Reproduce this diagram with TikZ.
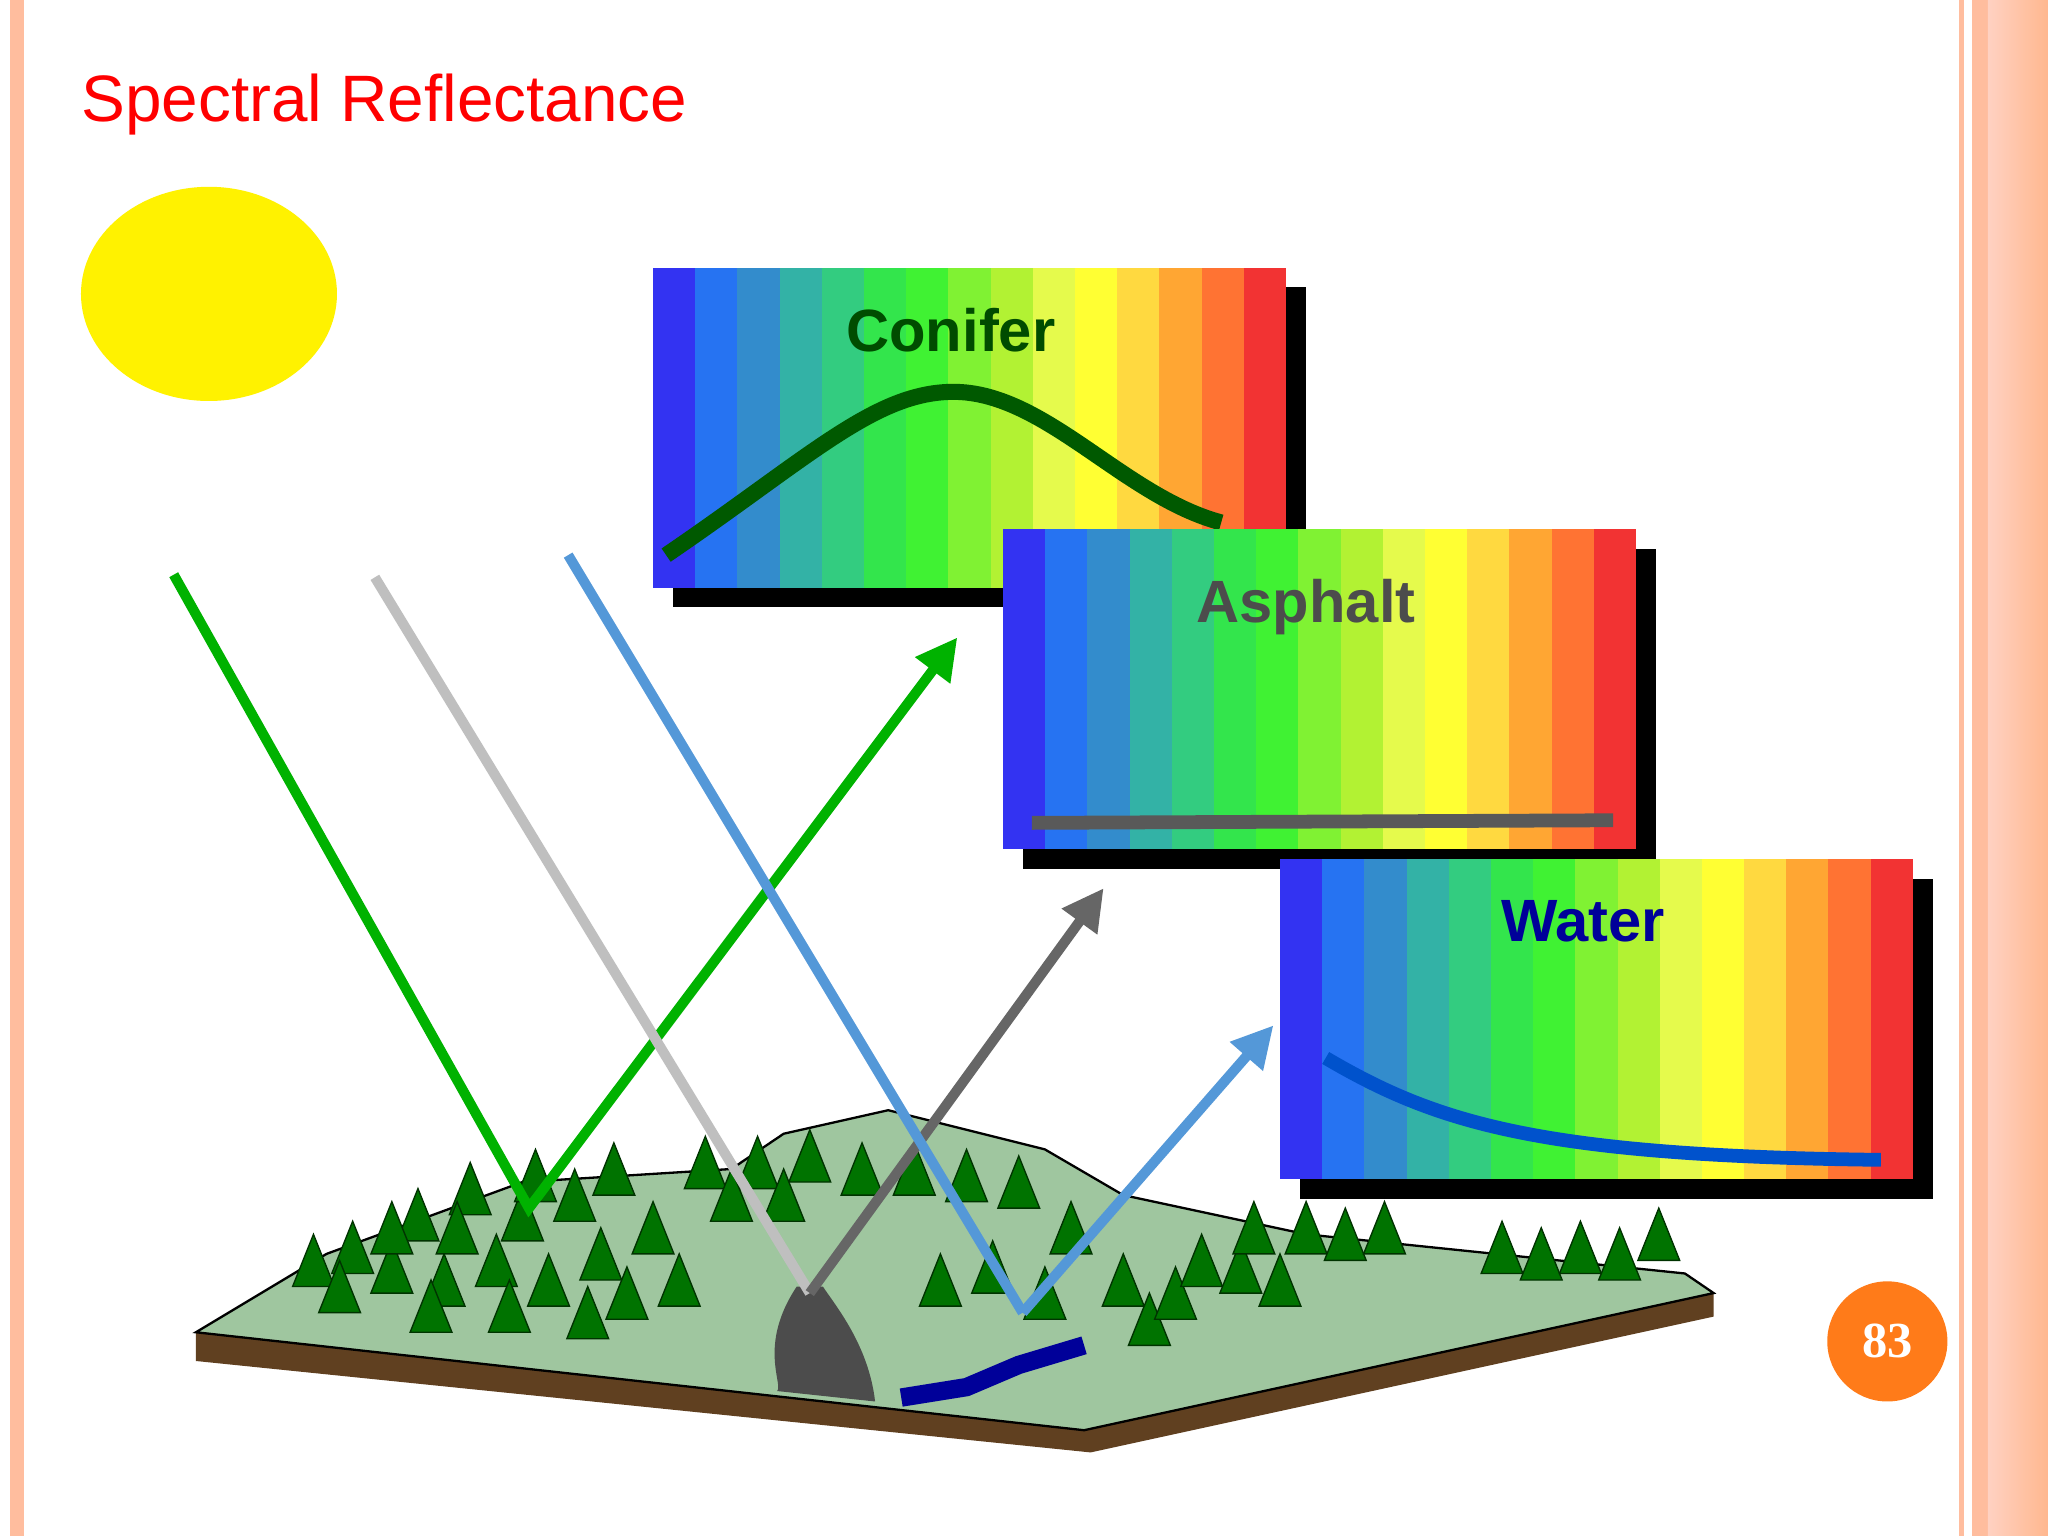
\documentclass[tikz,border=0pt]{standalone}
\usepackage{fontspec}
\setmainfont{Liberation Sans}
\newfontfamily\pnfont{Liberation Serif}
\usetikzlibrary{arrows.meta}
\newcommand{\specpanel}[2]{%
 \fill[black] (#1+15,#2+15) rectangle (#1+500,#2+260);
 \foreach \r/\g/\b [count=\i from 0] in {0.2/0.2/0.95,0.15/0.45/0.95,0.2/0.55/0.8,0.2/0.7/0.65,0.2/0.8/0.5,0.2/0.9/0.3,0.25/0.95/0.2,0.5/0.95/0.2,0.7/0.95/0.2,0.9/0.98/0.3,1/1/0.2,1/0.85/0.25,1/0.65/0.2,1/0.45/0.2,0.95/0.2/0.2}
   \fill[fill={rgb,1:red,\r;green,\g;blue,\b}] (#1+\i*32.3,#2) rectangle (#1+\i*32.3+32.6,#2+245);}
\tikzset{tree/.style={fill=green!45!black,draw=green!20!black,line width=0.3pt},
 ray/.style={line width=2.2pt,-{Triangle[length=9pt,width=9pt]}}}
\begin{document}
\begin{tikzpicture}[x=0.1mm,y=-0.1mm]
\useasboundingbox (0,0) rectangle (1568,1176);
\fill[white] (0,0) rectangle (1568,1176);
\fill[orange!30!pink!80] (8,0) rectangle (18,1176);
\fill[orange!30!pink!80] (1500,0) rectangle (1504,1176);
\fill[orange!30!pink!80] (1510,0) rectangle (1522,1176);
\shade[left color=orange!20!pink!60, right color=orange!40!pink!80] (1522,0) rectangle (1568,1176);
\node[anchor=west,text=red,font=\fontsize{14.3}{15}\selectfont] (title) at (50,80) {Spectral Reflectance};
\fill[yellow] (160,225) ellipse [x radius=98, y radius=82];
% panels
\specpanel{500}{205}
\node[font=\fontsize{13}{13}\selectfont\bfseries,text=green!30!black] (con) at (728,253) {Conifer};
\draw[green!35!black,line width=3.5pt] (510,425) .. controls (620,350) and (670,300) .. (730,300) .. controls (800,300) and (860,380) .. (935,400);
\specpanel{768}{405}
\node[font=\fontsize{13}{13}\selectfont\bfseries,text=black!70] (asp) at (1000,465) {Asphalt};
\draw[black!65,line width=3pt] (790,630) -- (1235,628);
\specpanel{980}{658}
\node[font=\fontsize{13}{13}\selectfont\bfseries,text=blue!60!black] (wat) at (1212,705) {Water};
\draw[blue!60!cyan!80!black,line width=3pt] (1015,810) .. controls (1100,860) and (1180,885) .. (1440,888);
% terrain
\fill[brown!50!black] (150,1020) -- (830,1095) -- (1312,990) -- (1312,1008) -- (835,1112) -- (150,1042) -- cycle;
\fill[green!25!gray!60!white,draw=black,line width=0.5pt] (150,1020) -- (250,960) -- (400,905) -- (560,895) -- (600,868) -- (680,850) -- (800,880) -- (860,915) -- (1000,945) -- (1290,975) -- (1312,990) -- (830,1095) -- cycle;
\fill[black!70] (610,985) .. controls (580,1030) and (600,1060) .. (595,1065) -- (670,1073) .. controls (665,1030) and (640,1000) .. (630,985) -- cycle;
\draw[blue!60!black,line width=4pt] (690,1070) -- (740,1062) -- (780,1045) -- (830,1030);
\foreach \x/\y in {240/985,270/975,300/990,320/950,340/1000,360/930,380/985,400/950,420/1000,440/935,460/980,480/1010,500/960,520/1000,350/960,300/960,410/920,470/915,540/910,580/910,620/905,660/915,700/915,740/920,780/925,820/960,860/1000,880/1030,900/1010,920/985,950/990,980/1000,960/960,1000/960,1030/965,1060/960,1150/975,1180/980,1210/975,1240/980,1270/965,720/1000,760/990,800/1010,260/1005,390/1020,450/1025,330/1020,560/935,600/935}
  \fill[tree] (\x,\y-40) -- (\x-16,\y) -- (\x+16,\y) -- cycle;
% rays
\coordinate (g0) at (133,440); \coordinate (g1) at (405,925); \coordinate (g2) at (733,488);
\coordinate (s0) at (287,442); \coordinate (s1) at (620,990); \coordinate (s2) at (845,680);
\coordinate (b0) at (435,425); \coordinate (b1) at (783,1005); \coordinate (b2) at (975,785);
\draw[ray,green!70!black] (g0) -- (g1) -- (g2);
\draw[line width=2.2pt,black!25] (s0) -- (s1);
\draw[ray,black!60] (s1) -- (s2);
\draw[line width=2.2pt,cyan!60!blue!70] (b0) -- (b1);
\draw[ray,cyan!60!blue!70] (b1) -- (b2);
% page number
\fill[orange!85!red!90] (1445,1027) circle (46);
\node[text=white,font=\pnfont\fontsize{11}{11}\selectfont\bfseries] (pn) at (1445,1027) {83};
\end{tikzpicture}
\end{document}
